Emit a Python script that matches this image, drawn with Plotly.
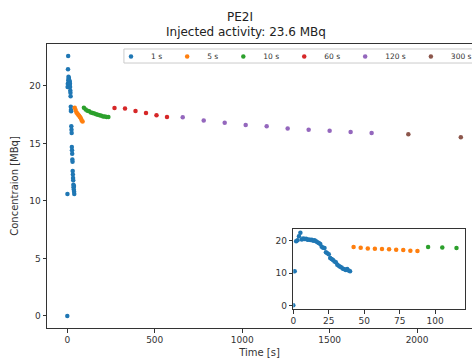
import plotly.graph_objects as go

# ---- data ----
t_1s = [0, 1, 2, 3, 4, 5, 6, 7, 8, 9, 10, 11, 12, 13, 14, 15, 16, 17, 18, 19, 20,
        21, 22, 23, 24, 25, 26, 27, 28, 29, 30, 31, 32, 33, 34, 35, 36, 37, 38, 39, 40]
c_1s = [0.0, 10.6, 19.9, 20.2, 21.45, 22.6, 20.5, 20.8, 20.6, 20.7, 20.4, 20.5, 20.3,
        20.4, 20.1, 20.2, 19.9, 19.6, 19.4, 19.1, 18.2, 17.9, 17.8, 16.5, 16.2, 15.9,
        14.7, 14.4, 14.1, 13.6, 13.4, 12.6, 12.3, 12.0, 11.8, 11.4, 11.2, 11.0, 11.3,
        10.8, 10.6]
t_5s = [42.5, 47.5, 52.5, 57.5, 62.5, 67.5, 72.5, 77.5, 82.5, 87.5]
c_5s = [18.1, 17.9, 17.7, 17.6, 17.5, 17.4, 17.3, 17.2, 17.0, 16.9]
t_10s = [95, 105, 115, 125, 135, 145, 155, 165, 175, 185, 195, 205, 215, 225, 235]
c_10s = [18.1, 17.95, 17.85, 17.8, 17.7, 17.65, 17.6, 17.55, 17.5, 17.45, 17.4,
         17.35, 17.35, 17.3, 17.3]
t_60s = [270, 330, 390, 450, 510, 570]
c_60s = [18.09, 18.03, 17.83, 17.65, 17.45, 17.3]
t_120s = [660, 780, 900, 1020, 1140, 1260, 1380, 1500, 1620, 1740]
c_120s = [17.27, 17.0, 16.8, 16.6, 16.5, 16.3, 16.2, 16.1, 16.0, 15.9]
t_300s = [1950, 2250]
c_300s = [15.8, 15.55]

series_names = ["1 s", "5 s", "10 s", "60 s", "120 s", "300 s"]
series_t = [t_1s, t_5s, t_10s, t_60s, t_120s, t_300s]
series_c = [c_1s, c_5s, c_10s, c_60s, c_120s, c_300s]
colors = ["#1f77b4", "#ff7f0e", "#2ca02c", "#d62728", "#9467bd", "#8c564b"]

title_l1 = "PE2I"
title_l2 = "Injected activity: 23.6 MBq"

FONT = "DejaVu Sans"
AX = "#333333"

fig = go.Figure()
for name, t, c, col in zip(series_names, series_t, series_c, colors):
    fig.add_trace(go.Scatter(x=t, y=c, mode="markers", name=name,
                             marker=dict(color=col, size=4.5),
                             xaxis="x", yaxis="y"))
# inset (first three series)
for name, t, c, col in zip(series_names[:3], series_t[:3], series_c[:3], colors[:3]):
    fig.add_trace(go.Scatter(x=t, y=c, mode="markers", name=name, showlegend=False,
                             marker=dict(color=col, size=4.5),
                             xaxis="x2", yaxis="y2"))

axis_common = dict(showgrid=False, zeroline=False, showline=True, linecolor=AX,
                   linewidth=1, ticks="outside", ticklen=3.5, tickwidth=1,
                   tickcolor=AX, tickfont=dict(family=FONT, size=9, color=AX))

fig.update_layout(
    width=472, height=360,
    margin=dict(l=47, r=0, t=44, b=32, autoexpand=False),
    paper_bgcolor="white", plot_bgcolor="white",
    font=dict(family=FONT, color="#222222"),
    title=dict(text=title_l1, x=0.5085, xref="container",
               xanchor="center", y=0.9528, yanchor="middle",
               font=dict(family=FONT, size=12, color="#222222")),
    annotations=[dict(text=title_l2, xref="paper", yref="paper", x=0.468, y=1.0423,
                      xanchor="center", yanchor="middle", showarrow=False,
                      font=dict(family=FONT, size=12, color="#222222"))],
    xaxis=dict(domain=[0, 1], range=[-116, 2314], tickvals=[0, 500, 1000, 1500, 2000],
               mirror=True, anchor="y", automargin=False,
               title=dict(text="Time [s]", standoff=4,
                          font=dict(family=FONT, size=10, color=AX)),
               **axis_common),
    yaxis=dict(domain=[0, 1], range=[-1.05, 23.65], tickvals=[0, 5, 10, 15, 20],
               anchor="x", automargin=False,
               title=dict(text="Concentraion [MBq]", standoff=8,
                          font=dict(family=FONT, size=10, color=AX)),
               **axis_common),
    xaxis2=dict(domain=[0.5795, 0.9835], range=[0, 121], tickvals=[0, 25, 50, 75, 100],
                anchor="y2", mirror=True, **axis_common),
    yaxis2=dict(domain=[0.0669, 0.3486], range=[-1.13, 23.73], tickvals=[0, 10, 20],
                anchor="x2", mirror=True, **axis_common),
    legend=dict(orientation="h", x=0.1506, y=1.007, xanchor="left", yanchor="top",
                font=dict(family=FONT, size=7.5, color=AX),
                bgcolor="rgba(0,0,0,0)", borderwidth=0),
    showlegend=True,
    shapes=[dict(type="rect", xref="paper", yref="paper",
                 x0=0.181, x1=1.03, y0=0.933, y1=0.9824,
                 line=dict(color="#cccccc", width=1),
                 fillcolor="rgba(255,255,255,0.85)", layer="below")],
)

fig.write_html("out.html", config={"displayModeBar": False},
               post_script="document.body.style.margin='0';")
